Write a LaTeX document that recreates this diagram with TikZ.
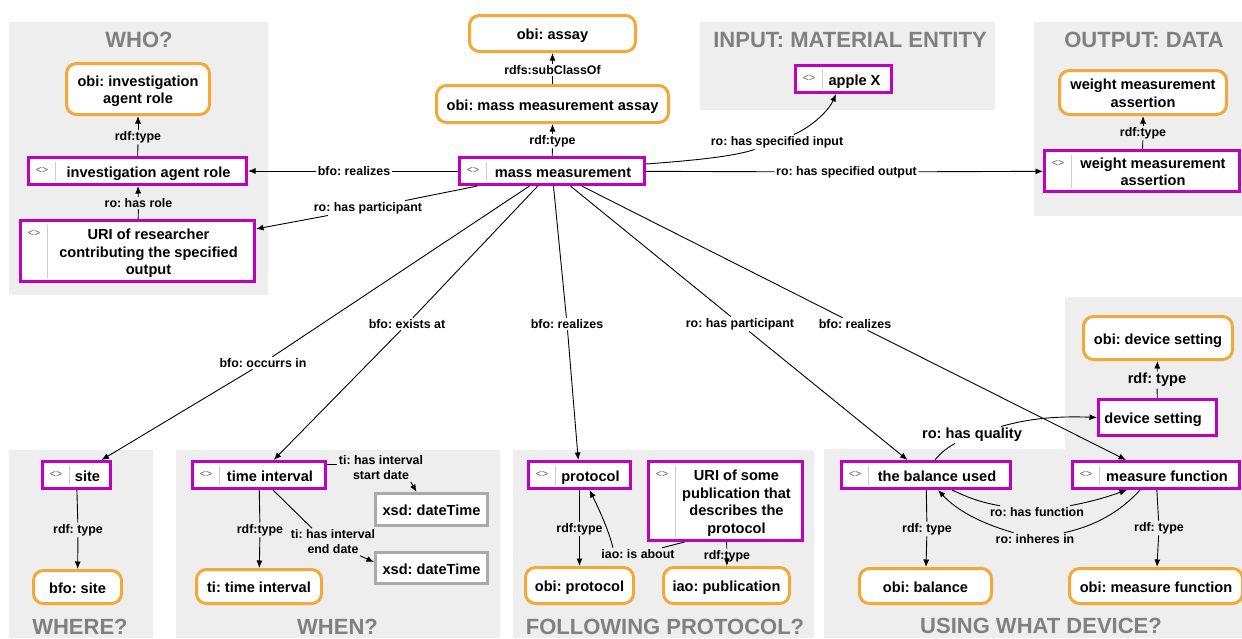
\documentclass[tikz,border=0pt]{standalone}
\usepackage{fontspec}
\setmainfont{Liberation Sans}
\usetikzlibrary{arrows.meta}
\frenchspacing
\definecolor{pur}{RGB}{192,0,192}
\definecolor{org}{RGB}{243,168,58}
\definecolor{bgg}{RGB}{238,238,238}
\definecolor{ttlg}{RGB}{128,128,128}
\definecolor{xsdg}{RGB}{170,170,170}
\definecolor{icn}{RGB}{95,95,95}
\definecolor{sepg}{RGB}{205,205,205}
\newcommand\nodefont{\fontsize{14.6}{17.5}\selectfont\bfseries}
\newcommand\labfont{\fontsize{12.4}{15}\selectfont\bfseries}
\newcommand\biglabfont{\fontsize{14.6}{17}\selectfont\bfseries}
\newcommand\ttlfont{\fontsize{22}{24}\selectfont\bfseries}
% centred block of lines, set a little lower inside its box
\newcommand\otxt[1]{\raisebox{-2.5pt}[\height][\depth]{\begin{tabular}{@{}c@{}}#1\end{tabular}}}
% instance text, shifted right of the icon column
\newcommand\ptxt[1]{\hspace*{22pt}\otxt{#1}}
\tikzset{
  basebox/.style={fill=white, line width=3pt, inner sep=0pt, font=\nodefont},
  plain/.style={basebox, draw=pur},
  pbox/.style={plain, path picture={
      \node[font=\fontsize{10.5}{10.5}\selectfont\mdseries, text=icn, inner sep=0pt]
        at ([xshift=13.5pt,yshift=-12.5pt]path picture bounding box.north west) {<>};
      \draw[sepg, line width=1pt]
        ([xshift=26.5pt,yshift=-4pt]path picture bounding box.north west) --
        ([xshift=26.5pt,yshift=4pt]path picture bounding box.south west);}},
  obox/.style={basebox, draw=org, rounded corners=10pt},
  xbox/.style={basebox, draw=xsdg},
  lab/.style={font=\labfont, inner sep=1.5pt, align=center},
  biglab/.style={lab, font=\biglabfont},
  ttl/.style={font=\ttlfont, text=ttlg, anchor=base, inner sep=0pt},
  conn/.style={draw=black, line width=0.9pt},
  arr/.style={conn, -{Latex[length=7.5pt,width=6pt]}},
}
\begin{document}
\begin{tikzpicture}[x=1pt,y=-1pt]
\useasboundingbox (0,0) rectangle (1242,638);
% group panels
\fill[bgg] (9,22) rectangle (268,295);
\fill[bgg] (700,22) rectangle (995,110);
\fill[bgg] (1034,22) rectangle (1242,216);
\fill[bgg] (9,450) rectangle (153,638);
\fill[bgg] (176,450) rectangle (500,638);
\fill[bgg] (513,450) rectangle (814,638);
\fill[bgg] (824,449) rectangle (1242,638);
\fill[bgg] (1065,297) rectangle (1242,449.5);
% panel titles
\node[ttl] (tWho) at (139,47) {WHO?};
\node[ttl] (tIn) at (850,47) {INPUT: MATERIAL ENTITY};
\node[ttl] (tOut) at (1144,47) {OUTPUT: DATA};
\node[ttl] (tWhere) at (80,634.5) {WHERE?};
\node[ttl] (tWhen) at (337.5,634.5) {WHEN?};
\node[ttl] (tProt) at (665,634.5) {FOLLOWING PROTOCOL?};
\node[ttl] (tDev) at (1041,633.5) {USING WHAT DEVICE?};

% who
\node[obox, minimum width=143pt, minimum height=51pt] (oiar) at (138,89) {\otxt{obi: investigation\\agent role}};
\node[pbox, minimum width=218pt, minimum height=27pt] (iar) at (137.5,171) {\ptxt{investigation agent role}};
\node[pbox, minimum width=234pt, minimum height=61pt] (uri1) at (137.5,251) {\ptxt{URI of researcher\\contributing the specified\\output}};
% assay
\node[obox, minimum width=166pt, minimum height=36pt] (assay) at (552.5,33.5) {\otxt{obi: assay}};
\node[obox, minimum width=232pt, minimum height=37pt] (mma) at (552.5,104) {\otxt{obi: mass measurement assay}};
\node[pbox, minimum width=185pt, minimum height=27pt] (mm) at (552,171) {\ptxt{mass measurement}};
% input / output
\node[pbox, minimum width=96pt, minimum height=27pt] (apple) at (843.5,79) {\ptxt{apple X}};
\node[obox, minimum width=167pt, minimum height=44pt] (owma) at (1143,92.5) {\otxt{weight measurement\\assertion}};
\node[pbox, minimum width=195pt, minimum height=41pt] (wma) at (1142,171) {\ptxt{weight measurement\\assertion}};
% where
\node[pbox, minimum width=68pt, minimum height=27pt] (site) at (76.5,475) {\ptxt{site}};
\node[obox, minimum width=88pt, minimum height=33pt] (bsite) at (77.5,587) {\otxt{bfo: site}};
% when
\node[pbox, minimum width=133pt, minimum height=27pt] (tint) at (259,475) {\ptxt{time interval}};
\node[obox, minimum width=125pt, minimum height=34pt] (otint) at (259,586.5) {\otxt{ti: time interval}};
\node[xbox, minimum width=112pt, minimum height=32pt] (x1) at (431.5,509.5) {\otxt{xsd: dateTime}};
\node[xbox, minimum width=112pt, minimum height=31pt] (x2) at (431.5,568) {\otxt{xsd: dateTime}};
% protocol
\node[pbox, minimum width=102pt, minimum height=27pt] (prot) at (579.5,475) {\ptxt{protocol}};
\node[pbox, minimum width=154pt, minimum height=79pt] (pub) at (725.5,501) {\ptxt{URI of some\\publication that\\describes the\\protocol}};
\node[obox, minimum width=108pt, minimum height=36pt] (oprot) at (579.5,585.5) {\otxt{obi: protocol}};
\node[obox, minimum width=126pt, minimum height=36pt] (opub) at (726.5,585.5) {\otxt{iao: publication}};
% device
\node[obox, minimum width=149pt, minimum height=43pt] (ods) at (1158,338) {\otxt{obi: device setting}};
\node[plain, minimum width=118pt, minimum height=36pt] (ds) at (1157.5,417.5) {\otxt{device setting}\hspace*{9pt}};
\node[pbox, minimum width=169pt, minimum height=27pt] (bal) at (926,475) {\ptxt{the balance used}};
\node[pbox, minimum width=167pt, minimum height=27pt] (mf) at (1156,475) {\ptxt{measure function}};
\node[obox, minimum width=132pt, minimum height=35pt] (obal) at (925.5,586) {\otxt{obi: balance}};
\node[obox, minimum width=173pt, minimum height=35pt] (omf) at (1156,586) {\otxt{obi: measure function}};

% connector labels
\node[lab] (lsub) at (552.5,70) {rdfs:subClassOf};
\node[lab] (lmmt) at (552.5,141) {rdf:type};
\node[lab] (lreal1) at (354,171) {bfo: realizes};
\node[lab] (lpart1) at (368,208) {ro: has participant};
\node[lab] (liart) at (138,137) {rdf:type};
\node[lab] (lrole) at (138.5,203) {ro: has role};
\node[lab] (lin) at (777,142) {ro: has specified input};
\node[lab] (lout) at (846.5,172) {ro: has specified output};
\node[lab] (lwt) at (1143,133) {rdf:type};
\node[lab] (locc) at (263,363) {bfo: occurrs in};
\node[lab] (lex) at (407,324) {bfo: exists at};
\node[lab] (lreal2) at (567,324) {bfo: realizes};
\node[lab] (lpart2) at (740,324) {ro: has participant};
\node[lab] (lreal3) at (855,324) {bfo: realizes};
\node[lab] (lsitet) at (78,530) {rdf: type};
\node[lab] (ltt) at (260,530) {rdf:type};
\node[lab] (lstart) at (381,468) {ti: has interval\\start date};
\node[lab] (lend) at (333,542) {ti: has interval\\end date};
\node[lab] (lpt) at (579.5,529) {rdf:type};
\node[lab] (labout) at (638,554) {iao: is about};
\node[lab] (lpubt) at (727,556) {rdf:type};
\node[biglab] (ldst) at (1157,380) {rdf: type};
\node[biglab] (lqual) at (972,435) {ro: has quality};
\node[lab] (lbalt) at (927,529) {rdf: type};
\node[lab] (lmft) at (1159,528) {rdf: type};
\node[lab] (lfunc) at (1037,512) {ro: has function};
\node[lab] (linh) at (1035,539) {ro: inheres in};

% connectors
\draw[conn] (mma) -- (lsub);   \draw[arr] (lsub) -- (assay);
\draw[conn] (mm) -- (lmmt);    \draw[arr] (lmmt) -- (mma);
\draw[conn] (mm) -- (lreal1);  \draw[arr] (lreal1) -- (iar);
\draw[conn] (mm) -- (lpart1);  \draw[arr] (lpart1) -- (uri1);
\draw[conn] (iar) -- (liart);  \draw[arr] (liart) -- (oiar);
\draw[conn] (uri1) -- (lrole); \draw[arr] (lrole) -- (iar);
\draw[conn] ([yshift=7pt]mm.east) .. controls (700,160) and (735,156) .. (lin);
\draw[arr] (lin) .. controls (813,126) and (829,110) .. ([xshift=-7.5pt]apple.south);
\draw[conn] (mm) -- (lout);    \draw[arr] (lout) -- (wma);
\draw[conn] (wma) -- (lwt);    \draw[arr] (lwt) -- (owma);
\draw[conn] (mm) -- (locc);    \draw[arr] (locc) -- (site);
\draw[conn] (mm) -- (lex);     \draw[arr] (lex) -- (tint);
\draw[conn] (mm) -- (lreal2);  \draw[arr] (lreal2) -- (prot);
\draw[conn] (mm) -- (lpart2);  \draw[arr] (lpart2) -- (bal);
\draw[conn] (mm) -- (lreal3);  \draw[arr] (lreal3) -- (mf);
\draw[conn] (site) -- (lsitet); \draw[arr] (lsitet) -- (bsite);
\draw[conn] (tint) -- (ltt);   \draw[arr] (ltt) -- (otint);
\draw[conn] ([yshift=11pt]tint.east) -- ([yshift=11pt]tint.east -| lstart.west);
\draw[arr] ([xshift=-14pt]lstart.south east) -- ([xshift=-15pt]x1.north);
\draw[conn] ([xshift=14pt]tint.south) -- ([xshift=-21pt]lend.north);
\draw[arr] ([xshift=27pt]lend.south) -- ([yshift=6pt]x2.west);
\draw[conn] (prot) -- (lpt);   \draw[arr] (lpt) -- (oprot);
\draw[conn] (pub) -- (lpubt);  \draw[arr] (lpubt) -- (opub);
\draw[conn] ([xshift=-41pt]pub.south) -- (labout);
\draw[arr] ([xshift=-25pt]labout.north) .. controls (608,528) and (597,505) .. ([xshift=10pt]prot.south);
\draw[conn] (ds) -- (ldst);    \draw[arr] (ldst) -- (ods);
\draw[conn] (bal) -- (lbalt);  \draw[arr] (lbalt) -- (obal);
\draw[conn] (mf) -- (lmft);    \draw[arr] (lmft) -- (omf);
\draw[conn] ([xshift=9pt]bal.north) .. controls (941,452) and (950,446) .. (lqual);
\draw[arr] (lqual) .. controls (1030,418) and (1060,416) .. (ds.west);
\draw[conn] ([xshift=26pt]bal.south) .. controls (965,496) and (978,502) .. (lfunc);
\draw[arr] (lfunc) .. controls (1100,500) and (1115,494) .. ([xshift=-29pt]mf.south);
\draw[conn] ([xshift=-16pt]mf.south) .. controls (1120,512) and (1095,526) .. (linh);
\draw[arr] (linh) .. controls (970,520) and (952,505) .. ([xshift=12pt]bal.south);
\end{tikzpicture}
\end{document}
